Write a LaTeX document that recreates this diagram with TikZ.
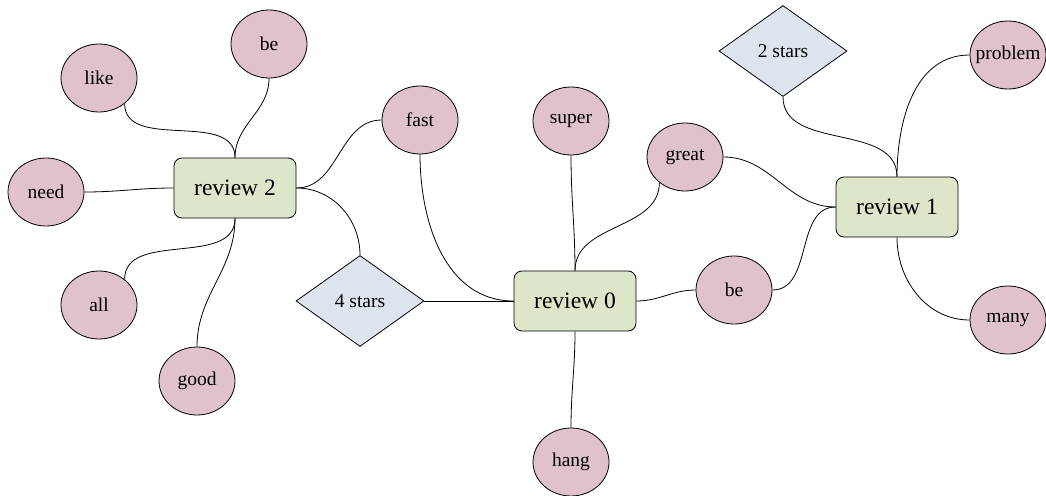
\documentclass[tikz,border=0pt]{standalone}
\usepackage{fontspec}
\setmainfont{Liberation Serif}
\usetikzlibrary{shapes.geometric}
\definecolor{wordfill}{RGB}{224,194,205}
\definecolor{reviewfill}{RGB}{221,230,200}
\definecolor{starfill}{RGB}{222,228,238}
\tikzset{
  word/.style={ellipse, draw=black, fill=wordfill, line width=0.8pt, minimum width=76pt, minimum height=68pt, inner sep=0pt, font=\fontsize{19.5}{22}\selectfont},
  review/.style={rectangle, rounded corners=8pt, draw=black, fill=reviewfill, line width=0.8pt, minimum width=122pt, minimum height=60pt, inner sep=0pt, font=\fontsize{23.5}{27}\selectfont},
  stars/.style={diamond, draw=black, fill=starfill, line width=0.8pt, minimum width=128pt, minimum height=91pt, inner sep=0pt, font=\fontsize{19.5}{22}\selectfont},
  link/.style={draw=black, line width=0.8pt}
}
\begin{document}
\begin{tikzpicture}[x=1pt,y=1pt]
\useasboundingbox (0,0) rectangle (1046,-495);
% review nodes
\node[review] (r2) at (235,-188) {review 2};
\node[review] (r0) at (575,-301) {review 0};
\node[review] (r1) at (897,-207) {review 1};
% stars
\node[stars] (s4) at (360,-301) {4 stars};
\node[stars] (s2) at (783,-51) {2 stars};
% words
\node[word] (like) at (99,-78) {like};
\node[word] (beA) at (269,-44) {be};
\node[word] (need) at (46,-192) {need};
\node[word] (fast) at (420,-120) {fast};
\node[word] (all) at (99,-305) {all};
\node[word] (good) at (197,-381) {good};
\node[word] (super) at (571,-121) {super};
\node[word] (great) at (685,-157) {great};
\node[word] (beB) at (734,-290) {be};
\node[word] (hang) at (571,-462) {hang};
\node[word] (problem) at (1008,-55) {\makebox[0pt]{problem}};
\node[word] (many) at (1008,-320) {many};
% links
\draw[link] (like.-45) to[out=-90,in=90] (r2.north);
\draw[link] (beA.south) to[out=-90,in=90] (r2.north);
\draw[link] (need.east) to[out=0,in=180] (r2.west);
\draw[link] (r2.east) to[out=0,in=180] (fast.west);
\draw[link] (r2.east) to[out=0,in=90] (s4.north);
\draw[link] (r2.south) to[out=-90,in=90] (all.45);
\draw[link] (r2.south) to[out=-90,in=90] (good.north);
\draw[link] (fast.south) to[out=-90,in=180] (r0.west);
\draw[link] (s4.east) -- (r0.west);
\draw[link] (super.south) to[out=-90,in=90] (r0.north);
\draw[link] (great.-135) to[out=-90,in=90] (r0.north);
\draw[link] (r0.east) to[out=0,in=180] (beB.west);
\draw[link] (r0.south) to[out=-90,in=90] (hang.north);
\draw[link] (great.east) to[out=0,in=180] (r1.west);
\draw[link] (beB.east) to[out=0,in=180] (r1.west);
\draw[link] (s2.south) to[out=-90,in=90] (r1.north);
\draw[link] (r1.north) to[out=90,in=180] (problem.west);
\draw[link] (r1.south) to[out=-90,in=180] (many.west);
\end{tikzpicture}
\end{document}
